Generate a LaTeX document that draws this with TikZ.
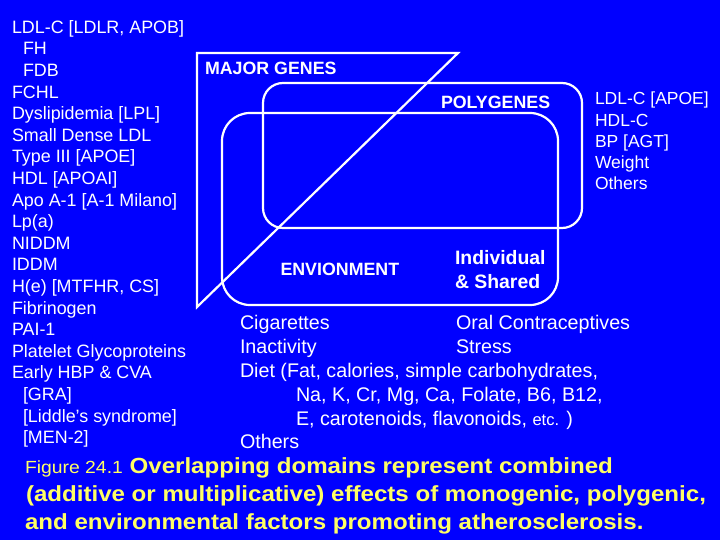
\documentclass[tikz,border=0pt]{standalone}
\usepackage{fontspec}
\setmainfont{Liberation Sans}
\newfontfamily\capfont[FakeStretch=1.1]{Liberation Sans}
\definecolor{bg}{RGB}{0,0,255}
\definecolor{capyellow}{RGB}{255,255,100}
\begin{document}
\begin{tikzpicture}[x=1bp,y=-1bp,
  lbl/.style={text=white, inner sep=0, outer sep=0, anchor=base west,
    font=\fontsize{17.9bp}{21.6bp}\selectfont},
  rlbl/.style={lbl, font=\fontsize{17.5bp}{21bp}\selectfont},
  headlbl/.style={lbl, font=\fontsize{17.8bp}{21bp}\selectfont\bfseries},
  indivlbl/.style={lbl, font=\fontsize{19.4bp}{23bp}\selectfont\bfseries},
  envlbl/.style={lbl, font=\fontsize{19.7bp}{24bp}\selectfont},
  captext/.style={text=capyellow, inner sep=0, outer sep=0, anchor=base west,
    font=\capfont\fontsize{21.9bp}{28bp}\selectfont\bfseries},
  domainline/.style={draw=white, line width=2.2bp}]
\fill[bg] (0,0) rectangle (720,540);
\useasboundingbox (0,0) rectangle (720,540);

% domains
\draw[domainline, line join=miter] (197,53) -- (458,53) -- (197,307) -- cycle;
\draw[domainline, rounded corners=20bp] (263,83) rectangle (582,228);
\draw[domainline, rounded corners=28bp] (222,113) rectangle (558,305);

% left list (major genes)
\foreach \dx/\t [count=\i from 0] in {
  0/{LDL-C [LDLR, APOB]}, 11/{FH}, 11/{FDB}, 0/{FCHL}, 0/{Dyslipidemia [LPL]},
  0/{Small Dense LDL}, 0/{Type III [APOE]}, 0/{HDL [APOAI]},
  0/{Apo A-1 [A-1 Milano]}, 0/{Lp(a)}, 0/{NIDDM}, 0/{IDDM},
  0/{H(e) [MTFHR, CS]}, 0/{Fibrinogen}, 0/{PAI-1}, 0/{Platelet Glycoproteins},
  0/{Early HBP \& CVA}, 11/{[GRA]}, 11/{[Liddle’s syndrome]}, 11/{[MEN-2]}}
  \node[lbl] (L\i) at (12+\dx, 33.3+21.6*\i) {\t};

% right list (polygenes)
\foreach \t [count=\i from 0] in {{LDL-C [APOE]}, {HDL-C}, {BP [AGT]}, {Weight}, {Others}}
  \node[rlbl] (R\i) at (595, 105+21.05*\i) {\t};

% domain labels
\node[headlbl] (major) at (205,75) {MAJOR GENES};
\node[headlbl] (poly) at (441,108.3) {POLYGENES};
\node[headlbl] (envl) at (280.5,276) {ENVIONMENT};
\node[indivlbl] (ind1) at (455,265) {Individual};
\node[indivlbl] (ind2) at (455,288.3) {\& Shared};

% environment factors
\node[envlbl] (cig) at (240,329.3) {Cigarettes};
\node[envlbl] (oral) at (456,329.3) {Oral Contraceptives};
\node[envlbl] (inact) at (240,353) {Inactivity};
\node[envlbl] (stress) at (456,353) {Stress};
\node[envlbl] (diet) at (240,377) {Diet (Fat, calories, simple carbohydrates,};
\node[envlbl] (diet2) at (296,401) {Na, K, Cr, Mg, Ca, Folate, B6, B12,};
\node[envlbl] (diet3) at (296,425) {E, carotenoids, flavonoids, {\fontsize{16.5bp}{20bp}\selectfont etc.} )};
\node[envlbl] (oth) at (240,448.5) {Others};

% caption
\node[captext] (cap1) at (25,473.5) {{\mdseries\fontsize{17.6bp}{20bp}\selectfont Figure 24.1} Overlapping domains represent combined};
\node[captext] (cap2) at (26,501) {(additive or multiplicative) effects of monogenic, polygenic,};
\node[captext] (cap3) at (25,529.5) {and environmental factors promoting atherosclerosis.};
\end{tikzpicture}
\end{document}
